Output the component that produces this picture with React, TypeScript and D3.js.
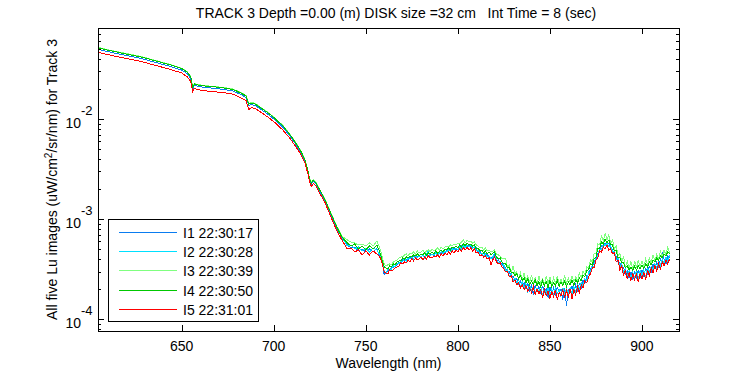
import React from 'react';
import * as d3 from 'd3';

const TITLE = 'TRACK 3 Depth =0.00 (m) DISK size =32 cm   Int Time = 8 (sec)';
const X_LABEL = 'Wavelength (nm)';
const Y_LABEL_PRE = 'All five Lu images (uW/cm';
const Y_LABEL_SUP = '2';
const Y_LABEL_POST = '/sr/nm) for Track 3';

const X_TICKS = [650, 700, 750, 800, 850, 900];
const Y_MAJOR = [1e-4, 1e-3, 1e-2];
const Y_MAJOR_EXP = ['-4', '-3', '-2'];

const SERIES_NAMES = ['I1 22:30:17', 'I2 22:30:28', 'I3 22:30:39', 'I4 22:30:50', 'I5 22:31:01'];
const SERIES_COLORS = ['#0a7cf0', '#00e0ff', '#80ff80', '#00c800', '#ff0000'];

// visible part (values in uW/cm^2/sr/nm)
const WAVELENGTH_VIS = [
  605, 612, 620, 628, 636, 644, 650, 653, 655, 656,
  657, 659, 663, 668, 673, 678, 682, 685, 686.5, 688,
  690, 693, 697, 701, 705, 709, 712, 715, 717, 718.5,
  719.5, 720.5, 721.5, 723, 725, 728, 731, 734, 737,
];

// near-infrared part (values given in units of 1e-4 uW/cm^2/sr/nm)
const NIR_UNIT = 1e-4;
const WAVELENGTH_NIR = [
  740, 742, 744, 746, 748, 750, 752, 754, 756, 758,
  759, 760, 761, 762, 763, 764, 765, 766, 767, 768, 769, 770,
  771, 772, 773, 774, 775, 776, 777, 778, 779, 780,
  781, 782, 783, 784, 785, 786, 787, 788, 789, 790,
  791, 792, 793, 794, 795, 796, 797, 798, 799, 800,
  801, 802, 803, 804, 805, 806, 807, 808, 809, 810,
  811, 812, 813, 814, 815, 816, 817, 818, 819, 820,
  821, 822, 823, 824, 825, 826, 827, 828, 829, 830,
  831, 832, 833, 834, 835, 836, 837, 838, 839, 840,
  841, 842, 843, 844, 845, 846, 847, 848, 849, 850,
  851, 852, 853, 854, 855, 856, 857, 858, 859, 860,
  861, 862, 863, 864, 865, 866, 867, 868, 869, 870,
  871, 872, 873, 874, 875, 876, 877, 878, 879, 880,
  881, 882, 883, 884, 885, 886, 887, 888, 889, 890,
  891, 892, 893, 894, 895, 896, 897, 898, 899, 900,
  901, 902, 903, 904, 905, 906, 907, 908, 909, 910,
  911, 912, 913, 914, 915,
];

const I1_VIS = [
  4.94e-2, 4.61e-2, 4.30e-2, 4.02e-2, 3.66e-2, 3.34e-2, 3.08e-2, 2.84e-2, 2.54e-2, 1.98e-2,
  2.17e-2, 2.11e-2, 2.06e-2, 2.02e-2, 1.97e-2, 1.90e-2, 1.76e-2, 1.64e-2, 1.37e-2, 1.39e-2,
  1.36e-2, 1.25e-2, 1.11e-2, 9.70e-3, 8.25e-3, 6.70e-3, 5.58e-3, 4.55e-3, 3.79e-3, 3.02e-3,
  2.46e-3, 2.24e-3, 2.40e-3, 2.24e-3, 1.90e-3, 1.51e-3, 1.12e-3, 8.35e-4, 6.50e-4,
];
const I1_NIR = [
  5.53, 5.16, 5.28, 4.82, 5.05, 4.71, 5.05, 4.71, 5.16, 4.01,
  3.66, 2.78, 2.98, 3.05, 3.12, 3.34, 3.27, 3.42, 3.50, 3.75, 3.66, 3.92,
  3.83, 4.01, 3.92, 4.20, 4.01, 4.30, 4.11, 4.20, 4.40, 4.11,
  4.40, 4.20, 4.50, 4.30, 4.40, 4.50, 4.30, 4.60, 4.40, 4.71,
  4.50, 4.82, 4.60, 4.93, 4.71, 5.05, 4.82, 5.16, 4.93, 5.28,
  5.05, 5.41, 5.16, 5.53, 5.28, 5.66, 5.16, 5.41, 5.05, 5.16,
  4.71, 4.82, 4.40, 4.60, 4.30, 4.50, 4.11, 4.20, 4.01, 4.40,
  3.83, 3.92, 3.58, 3.66, 3.27, 3.27, 2.91, 2.98, 2.66, 2.72,
  2.43, 2.54, 2.27, 2.43, 2.12, 2.32, 2.02, 2.27, 1.93, 2.17,
  1.76, 2.22, 1.89, 2.12, 1.80, 2.17, 1.85, 2.02, 1.65, 2.12,
  1.80, 2.07, 1.72, 2.12, 1.85, 2.02, 1.57, 2.07, 1.37, 1.98,
  1.89, 2.17, 1.85, 2.22, 1.93, 2.27, 2.07, 2.48, 2.27, 2.72,
  2.78, 3.19, 3.27, 3.75, 4.01, 4.60, 4.82, 5.41, 5.28, 5.79,
  5.53, 5.79, 5.05, 4.93, 4.50, 4.30, 3.75, 3.66, 3.27, 3.27,
  2.85, 3.05, 2.60, 2.98, 2.48, 3.05, 2.66, 3.12, 2.60, 3.12,
  2.72, 3.27, 2.78, 3.42, 2.98, 3.58, 3.19, 3.75, 3.34, 3.92,
  4.60, 4.01, 3.58, 4.30, 4.11,
];

const I2_VIS = [
  5.16e-2, 4.80e-2, 4.49e-2, 4.19e-2, 3.82e-2, 3.48e-2, 3.21e-2, 2.96e-2, 2.65e-2, 2.06e-2,
  2.25e-2, 2.19e-2, 2.14e-2, 2.10e-2, 2.05e-2, 1.98e-2, 1.83e-2, 1.71e-2, 1.42e-2, 1.45e-2,
  1.42e-2, 1.30e-2, 1.16e-2, 1.00e-2, 8.56e-3, 6.95e-3, 5.79e-3, 4.71e-3, 3.92e-3, 3.12e-3,
  2.53e-3, 2.31e-3, 2.47e-3, 2.31e-3, 1.97e-3, 1.56e-3, 1.16e-3, 8.60e-4, 6.68e-4,
];
const I2_NIR = [
  5.41, 5.53, 5.05, 5.28, 4.82, 5.16, 4.71, 5.16, 4.93, 4.30,
  3.75, 3.05, 2.91, 3.19, 3.05, 3.19, 3.42, 3.34, 3.66, 3.58, 3.83, 3.75,
  4.01, 3.83, 4.11, 4.01, 4.20, 4.01, 4.30, 4.11, 4.30, 4.20,
  4.40, 4.11, 4.50, 4.82, 4.30, 4.50, 4.40, 4.60, 4.40, 4.60,
  4.71, 4.50, 4.82, 4.71, 4.93, 4.82, 5.05, 4.93, 5.16, 4.93,
  5.28, 5.05, 5.41, 5.16, 5.53, 5.28, 5.53, 5.16, 5.28, 4.82,
  4.93, 4.50, 4.60, 4.30, 4.50, 4.20, 4.30, 4.01, 4.20, 4.60,
  3.92, 3.66, 3.75, 3.42, 3.50, 3.05, 3.12, 2.72, 2.85, 2.43,
  2.60, 2.27, 2.48, 2.12, 2.37, 2.02, 2.27, 1.89, 2.17, 1.98,
  2.12, 1.80, 2.07, 1.85, 2.17, 1.72, 2.02, 1.80, 2.12, 1.69,
  2.02, 1.76, 2.07, 1.80, 1.98, 1.69, 2.07, 1.76, 2.02, 1.85,
  2.07, 1.76, 2.12, 1.89, 2.22, 1.98, 2.32, 2.17, 2.54, 2.43,
  2.98, 2.91, 3.50, 3.34, 4.20, 4.30, 5.05, 4.93, 5.66, 5.41,
  5.79, 5.28, 5.41, 4.71, 4.82, 3.92, 4.11, 3.34, 3.58, 2.91,
  3.19, 2.72, 3.05, 2.54, 2.98, 2.60, 3.05, 2.54, 3.05, 2.72,
  3.12, 2.60, 3.27, 2.98, 3.34, 3.12, 3.58, 3.27, 3.75, 3.42,
  4.01, 3.66, 4.20, 3.83, 4.40,
];

const I3_VIS = [
  5.16e-2, 4.82e-2, 4.50e-2, 4.20e-2, 3.83e-2, 3.50e-2, 3.22e-2, 2.97e-2, 2.66e-2, 2.07e-2,
  2.26e-2, 2.20e-2, 2.15e-2, 2.11e-2, 2.06e-2, 1.99e-2, 1.84e-2, 1.72e-2, 1.43e-2, 1.46e-2,
  1.43e-2, 1.30e-2, 1.16e-2, 1.01e-2, 8.61e-3, 6.99e-3, 5.82e-3, 4.74e-3, 3.94e-3, 3.13e-3,
  2.55e-3, 2.32e-3, 2.49e-3, 2.32e-3, 1.98e-3, 1.57e-3, 1.17e-3, 8.70e-4, 6.80e-4,
];
const I3_NIR = [
  6.20, 5.92, 5.79, 5.53, 5.66, 5.41, 5.79, 5.41, 6.06, 4.93,
  4.11, 3.58, 3.42, 3.50, 3.58, 3.50, 3.75, 3.83, 3.92, 4.11, 4.20, 4.20,
  4.40, 4.50, 4.30, 4.60, 4.50, 4.71, 4.50, 4.82, 4.60, 4.71,
  4.93, 4.60, 4.82, 4.93, 4.71, 5.05, 4.82, 4.93, 5.16, 4.93,
  5.28, 5.05, 5.28, 5.41, 5.28, 5.53, 5.41, 5.66, 5.53, 5.79,
  5.66, 5.92, 6.20, 5.79, 6.20, 5.92, 6.06, 5.79, 5.92, 5.53,
  5.41, 5.16, 5.28, 4.93, 5.16, 4.82, 4.93, 4.71, 4.82, 4.93,
  4.50, 4.40, 4.30, 4.01, 4.01, 4.01, 3.27, 3.50, 2.91, 3.42,
  2.85, 2.98, 2.54, 2.91, 2.48, 2.91, 2.37, 2.72, 2.32, 2.78,
  2.32, 2.60, 2.22, 2.72, 2.27, 2.54, 2.22, 2.72, 2.27, 2.66,
  2.17, 2.60, 2.27, 2.72, 2.22, 2.54, 2.27, 2.78, 2.27, 2.60,
  2.32, 2.72, 2.37, 2.66, 2.43, 2.91, 2.60, 3.05, 2.78, 3.34,
  3.27, 3.92, 3.75, 4.50, 4.50, 5.66, 5.53, 6.80, 6.06, 7.28,
  6.20, 6.96, 5.79, 6.20, 5.05, 5.41, 4.30, 4.60, 3.75, 4.20,
  3.34, 3.83, 3.19, 3.75, 3.19, 3.83, 3.27, 3.92, 3.34, 3.83,
  3.34, 4.01, 3.50, 4.11, 3.66, 4.40, 3.83, 4.50, 4.01, 4.82,
  4.20, 4.93, 4.40, 5.28, 4.60,
];

const I4_VIS = [
  5.11e-2, 4.77e-2, 4.45e-2, 4.16e-2, 3.79e-2, 3.46e-2, 3.19e-2, 2.94e-2, 2.63e-2, 2.04e-2,
  2.24e-2, 2.18e-2, 2.13e-2, 2.09e-2, 2.04e-2, 1.97e-2, 1.82e-2, 1.70e-2, 1.41e-2, 1.44e-2,
  1.41e-2, 1.29e-2, 1.15e-2, 1.00e-2, 8.52e-3, 6.92e-3, 5.76e-3, 4.69e-3, 3.90e-3, 3.10e-3,
  2.52e-3, 2.30e-3, 2.46e-3, 2.30e-3, 1.96e-3, 1.55e-3, 1.15e-3, 8.55e-4, 6.64e-4,
];
const I4_NIR = [
  5.79, 5.41, 5.66, 5.05, 5.41, 4.93, 5.41, 5.05, 5.53, 4.50,
  3.83, 3.34, 3.27, 3.19, 3.42, 3.34, 3.58, 3.50, 3.75, 3.83, 3.83, 4.11,
  4.01, 4.20, 4.11, 4.30, 4.20, 4.40, 4.30, 4.50, 4.30, 4.50,
  4.40, 4.60, 4.40, 4.60, 4.50, 4.71, 4.50, 4.82, 4.60, 4.71,
  4.93, 4.71, 5.05, 4.93, 5.16, 4.93, 5.28, 5.16, 5.41, 5.16,
  5.53, 5.28, 5.66, 5.41, 5.79, 5.53, 5.66, 5.41, 5.53, 5.05,
  5.16, 4.82, 4.93, 4.60, 4.82, 4.50, 4.71, 4.40, 4.60, 4.71,
  4.20, 4.01, 4.11, 3.75, 3.58, 3.58, 3.27, 3.27, 2.91, 2.98,
  2.72, 2.85, 2.54, 2.72, 2.43, 2.60, 2.32, 2.54, 2.22, 2.43,
  2.22, 2.48, 2.17, 2.37, 2.12, 2.43, 2.17, 2.37, 2.07, 2.43,
  2.12, 2.32, 2.17, 2.48, 2.12, 2.37, 2.17, 2.43, 2.12, 2.37,
  2.22, 2.48, 2.17, 2.48, 2.32, 2.60, 2.43, 2.78, 2.66, 3.05,
  3.12, 3.58, 3.50, 4.01, 4.20, 5.05, 5.16, 5.92, 5.66, 6.35,
  5.79, 6.20, 5.53, 5.53, 4.82, 4.82, 4.11, 4.11, 3.66, 3.66,
  3.27, 3.42, 3.12, 3.34, 3.05, 3.42, 3.12, 3.42, 3.19, 3.50,
  3.19, 3.58, 3.34, 3.75, 3.50, 3.92, 3.75, 4.11, 3.92, 4.30,
  4.11, 4.50, 4.30, 4.71, 4.50,
];

const I5_VIS = [
  4.62e-2, 4.30e-2, 4.02e-2, 3.75e-2, 3.42e-2, 3.12e-2, 2.88e-2, 2.64e-2, 2.36e-2, 1.86e-2,
  2.02e-2, 1.96e-2, 1.91e-2, 1.87e-2, 1.83e-2, 1.77e-2, 1.63e-2, 1.53e-2, 1.24e-2, 1.30e-2,
  1.27e-2, 1.17e-2, 1.04e-2, 9.10e-3, 7.75e-3, 6.35e-3, 5.30e-3, 4.35e-3, 3.62e-3, 2.88e-3,
  2.36e-3, 2.12e-3, 2.28e-3, 2.14e-3, 1.82e-3, 1.45e-3, 1.06e-3, 7.90e-4, 6.20e-4,
];
const I5_NIR = [
  5.05, 5.16, 4.71, 4.93, 4.40, 4.82, 4.40, 4.82, 4.50, 4.11,
  3.58, 2.98, 2.91, 2.85, 3.12, 3.05, 3.12, 3.27, 3.34, 3.42, 3.66, 3.58,
  3.75, 3.66, 3.92, 3.75, 4.01, 3.83, 4.11, 3.92, 4.01, 4.20,
  3.92, 4.20, 4.01, 4.30, 4.11, 4.11, 4.30, 4.20, 4.40, 4.20,
  4.50, 4.30, 4.60, 4.40, 4.71, 4.50, 4.82, 4.60, 4.93, 4.71,
  5.05, 4.82, 5.16, 4.93, 5.28, 4.93, 5.16, 4.82, 5.05, 4.60,
  4.71, 4.30, 4.40, 4.20, 4.30, 4.01, 4.11, 3.50, 3.92, 4.20,
  3.75, 3.58, 3.66, 3.34, 3.19, 2.98, 2.98, 2.66, 2.72, 2.37,
  2.48, 2.22, 2.32, 2.07, 2.22, 1.98, 2.17, 1.89, 2.07, 1.85,
  2.12, 1.76, 2.02, 1.80, 1.98, 1.65, 1.98, 1.72, 1.93, 1.61,
  1.89, 1.69, 1.98, 1.57, 1.85, 1.72, 1.98, 1.65, 1.93, 1.69,
  2.02, 1.61, 1.98, 1.76, 2.12, 1.85, 2.22, 2.07, 2.43, 2.32,
  2.66, 2.85, 3.27, 3.27, 3.92, 4.11, 4.82, 4.71, 5.28, 5.05,
  5.53, 4.93, 5.05, 4.50, 4.60, 3.75, 3.92, 3.12, 3.42, 2.72,
  3.12, 2.54, 2.91, 2.43, 2.85, 2.48, 2.91, 2.37, 2.85, 2.54,
  2.98, 2.48, 3.12, 2.72, 3.27, 2.91, 3.42, 3.05, 3.58, 3.19,
  3.75, 3.42, 3.92, 3.58, 4.01,
];

const WAVELENGTH = [...WAVELENGTH_VIS, ...WAVELENGTH_NIR];
const toFull = (vis: number[], nir: number[]) => [...vis, ...nir.map((v) => v * NIR_UNIT)];
const SERIES = [
  toFull(I1_VIS, I1_NIR),
  toFull(I2_VIS, I2_NIR),
  toFull(I3_VIS, I3_NIR),
  toFull(I4_VIS, I4_NIR),
  toFull(I5_VIS, I5_NIR),
];

const FONT = '"Liberation Sans", Arial, Helvetica, sans-serif';
const FS = 14;

export default function App() {
  const W = 750;
  const H = 375;
  const L = 98, R = 679, T = 28, B = 331;
  const x = d3.scaleLinear().domain([604.6, 920.1]).range([L, R]);
  const y = d3.scaleLog().domain([7.66e-5, 0.0809]).range([B, T]);

  const line = d3
    .line<number>()
    .defined((d) => d > 0)
    .x((_, i) => x(WAVELENGTH[i]))
    .y((d) => y(d));

  const allTicks = y.ticks();
  const isMajor = (v: number) => Math.abs(Math.log10(v) - Math.round(Math.log10(v))) < 1e-6;
  const minorTicks = allTicks.filter((v) => !isMajor(v));

  const px = (v: number) => Math.round(v) + 0.5;

  const legendX = 108.5, legendY = 219.5, legendW = 150, legendH = 102;
  const rowH = 19.3;

  return (
    <svg
      width={W}
      height={H}
      style={{ position: 'absolute', left: 0, top: 0, background: '#fff' }}
      fontFamily={FONT}
    >
      <rect x={0} y={0} width={W} height={H} fill="#fff" />
      <defs>
        <clipPath id="plotclip">
          <rect x={L} y={T} width={R - L} height={B - T} />
        </clipPath>
      </defs>

      <text x={396} y={18} textAnchor="middle" fontSize={FS} style={{ whiteSpace: 'pre' }} xmlSpace="preserve">
        {TITLE}
      </text>

      <g clipPath="url(#plotclip)">
        {SERIES.map((s, k) => (
          <path key={k} d={line(s) || ''} fill="none" stroke={SERIES_COLORS[k]} strokeWidth={1} shapeRendering="crispEdges" />
        ))}
      </g>

      <rect x={L + 0.5} y={T + 0.5} width={R - L} height={B - T} fill="none" stroke="#000" strokeWidth={1} shapeRendering="crispEdges" />

      {X_TICKS.map((t) => (
        <g key={t}>
          <line x1={px(x(t))} x2={px(x(t))} y1={B} y2={B - 6} stroke="#000" shapeRendering="crispEdges" />
          <line x1={px(x(t))} x2={px(x(t))} y1={T} y2={T + 6} stroke="#000" shapeRendering="crispEdges" />
          <text x={x(t)} y={351} textAnchor="middle" fontSize={FS}>
            {t}
          </text>
        </g>
      ))}

      {Y_MAJOR.map((t, i) => (
        <g key={t}>
          <line x1={L} x2={L + 6} y1={px(y(t))} y2={px(y(t))} stroke="#000" shapeRendering="crispEdges" />
          <line x1={R} x2={R - 6} y1={px(y(t))} y2={px(y(t))} stroke="#000" shapeRendering="crispEdges" />
          <text x={81} y={y(t) + 9} textAnchor="end" fontSize={FS}>
            10
          </text>
          <text x={81} y={y(t) - 4} textAnchor="start" fontSize={13}>
            {Y_MAJOR_EXP[i]}
          </text>
        </g>
      ))}

      {minorTicks.map((t) => (
        <g key={t}>
          <line x1={L} x2={L + 3} y1={px(y(t))} y2={px(y(t))} stroke="#000" shapeRendering="crispEdges" />
          <line x1={R} x2={R - 3} y1={px(y(t))} y2={px(y(t))} stroke="#000" shapeRendering="crispEdges" />
        </g>
      ))}

      <text x={(L + R) / 2} y={368} textAnchor="middle" fontSize={FS}>
        {X_LABEL}
      </text>
      <text transform={`translate(57, ${(T + B) / 2}) rotate(-90)`} textAnchor="middle" fontSize={FS}>
        {Y_LABEL_PRE}
        <tspan dy={-5} fontSize={10}>
          {Y_LABEL_SUP}
        </tspan>
        <tspan dy={5}>{Y_LABEL_POST}</tspan>
      </text>

      <rect x={legendX} y={legendY} width={legendW} height={legendH} fill="#fff" stroke="#000" strokeWidth={1} shapeRendering="crispEdges" />
      {SERIES_NAMES.map((name, k) => {
        const cy = Math.round(231.7 + k * rowH) + 0.5;
        return (
          <g key={name}>
            <line x1={119} x2={177} y1={cy} y2={cy} stroke={SERIES_COLORS[k]} strokeWidth={1} shapeRendering="crispEdges" />
            <text x={183} y={cy + 5} fontSize={FS}>
              {name}
            </text>
          </g>
        );
      })}
    </svg>
  );
}
